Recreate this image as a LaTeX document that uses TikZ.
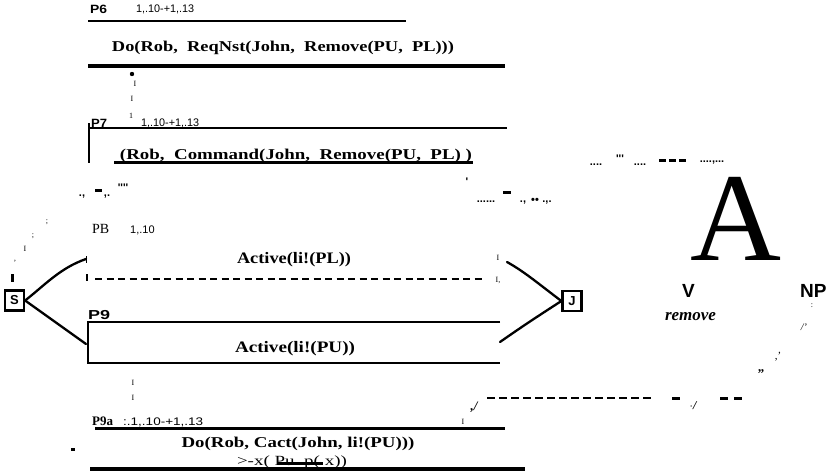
\documentclass[tikz,border=0pt]{standalone}
\usepackage{fontspec}
\usepackage{graphicx}
\setmainfont{Liberation Serif}
\newfontfamily\arial{Liberation Sans}
\newcommand\wfit[2]{\resizebox{#1}{\height}{#2}}
\begin{document}
\begin{tikzpicture}[x=1pt,y=-1pt,
  lbl/.style={inner sep=0pt, anchor=base west},
  ctr/.style={inner sep=0pt, anchor=base},
  tinymark/.style={inner sep=0pt, font=\fontsize{8}{8}\selectfont},
  junk/.style={inner sep=0pt, font=\arial\bfseries\fontsize{11}{11}\selectfont},
  boldserif/.style={font=\bfseries\fontsize{15}{15}\selectfont},
  pnum/.style={font=\arial\fontsize{11}{11}\selectfont},
  plabel/.style={font=\arial\bfseries\fontsize{12}{12}\selectfont},
  thinrule/.style={line width=2.5pt},
  thickrule/.style={line width=3.5pt},
  hand/.style={line width=2.3pt, line cap=round, line join=round},
  agent/.style={draw, line width=2.2pt, inner sep=0pt, minimum width=19pt, minimum height=20pt, font=\arial\bfseries\fontsize{13}{13}\selectfont},
  dashrule/.style={line width=2pt, dash pattern=on 7pt off 4.5pt}
]
\useasboundingbox[fill=white] (0,0) rectangle (827,472);

% ---------- P6 ----------
\node[lbl, plabel] (p6) at (90,13) {\wfit{17pt}{P6}};
\node[lbl, pnum] (p6n) at (136,12) {\wfit{58pt}{1,.10-+1,.13}};
\coordinate (l1a) at (88,21); \coordinate (l1b) at (406,21);
\draw[thinrule] (l1a) -- (l1b);
\node[ctr, boldserif] (t1) at (283,51) {\wfit{342pt}{Do(Rob,~ ReqNst(John,~ Remove(PU,~ PL)))}};
\coordinate (l2a) at (88,66); \coordinate (l2b) at (505,66);
\draw[thickrule] (l2a) -- (l2b);
\fill (132,74) circle (2.2);
\node[tinymark] (m1) at (135,84) {I};
\node[tinymark] (m2) at (132,99) {I};
\node[tinymark] (m3) at (131,116) {1};

% ---------- P7 ----------
\node[lbl, plabel] (p7) at (91,127) {\wfit{16pt}{P7}};
\node[lbl, pnum] (p7n) at (141,126) {\wfit{58pt}{1,.10-+1,.13}};
\coordinate (l3a) at (88,128); \coordinate (l3b) at (507,128);
\coordinate (v3a) at (89,123); \coordinate (v3b) at (89,163);
\draw[thinrule] (l3a) -- (l3b);
\draw[thinrule] (v3a) -- (v3b);
\node[ctr, boldserif] (t2) at (296,159) {\wfit{352pt}{(Rob,~ Command(John,~ Remove(PU,~ PL)~)}};
\coordinate (u2a) at (114,162.5); \coordinate (u2b) at (473,162.5);
\draw[line width=3pt] (u2a) -- (u2b);

% ---------- scattered marks (upper) ----------
\node[junk] (j1) at (82,197) {.,};
\fill (95,189) rectangle (102,192);
\node[junk] (j2) at (107,197) {,.};
\node[junk] (j3) at (123,188) {''''};
\node[junk] (j4) at (467,182) {'};
\node[junk] (j5) at (486,202) {......};
\fill (503,191) rectangle (511,194);
\node[junk] (j6) at (523,203) {.,};
\node[junk] (j7) at (535,201) {\textbullet\textbullet};
\node[junk] (j8) at (547,203) {.,.};
\node[tinymark] (j9) at (47,222) {;};
\node[tinymark] (j10) at (33,236) {;};
\node[tinymark] (j11) at (25,249) {I};
\node[tinymark] (j12) at (15,263) {'};
\fill (11,274) rectangle (13.5,282);

% ---------- P8 (PB) ----------
\node[lbl, font=\fontsize{14}{14}\selectfont] (pb) at (92,233) {PB};
\node[lbl, font=\arial\fontsize{11}{11}\selectfont] (pbn) at (130,233) {1,.10};
\node[ctr, font=\bfseries\fontsize{16}{16}\selectfont] (a1) at (294,263) {\wfit{114pt}{Active(li!(PL))}};
\coordinate (d1a) at (95,279); \coordinate (d1b) at (482,279);
\draw[dashrule] (d1a) -- (d1b);
\fill (85.5,274) rectangle (88,281);
\draw[line width=0.8pt] (86.5,256) -- (86.5,263);
\node[tinymark] (r1) at (498,258) {I};
\node[tinymark] (r2) at (498,280) {I,};

% ---------- agents ----------
\node[agent] (S) at (14.5,300.5) {S};
\node[agent] (J) at (572,301) {J};
\coordinate (s1) at (86,259);
\coordinate (s2) at (86,344);
\coordinate (j1c) at (507,262);
\coordinate (j2c) at (500,342);
\draw[hand] (S.east) .. controls (45,285) and (60,268) .. (s1);
\draw[hand] (S.east) -- (s2);
\draw[hand] (J.west) .. controls (540,285) and (525,272) .. (j1c);
\draw[hand] (J.west) .. controls (535,318) and (520,328) .. (j2c);

% ---------- P9 ----------
\node[lbl, font=\arial\bfseries\fontsize{13}{13}\selectfont] (p9) at (88,319) {\wfit{22pt}{P9}};
\coordinate (b1) at (500,322); \coordinate (b2) at (88,322);
\coordinate (b3) at (88,363); \coordinate (b4) at (500,363);
\draw[line width=2.8pt] (b1) -- (b2) -- (b3) -- (b4);
\node[ctr, font=\bfseries\fontsize{16}{16}\selectfont] (a2) at (295,352) {\wfit{120pt}{Active(li!(PU))}};
\node[tinymark] (m4) at (133,383) {I};
\node[tinymark] (m5) at (133,398) {I};

% ---------- P9a ----------
\node[lbl, font=\bfseries\fontsize{13}{13}\selectfont] (p9a) at (92,425) {P9a};
\node[lbl, pnum] (p9an) at (123,425) {\wfit{80pt}{:.1,.10-+1,.13}};
\coordinate (l5a) at (95,428.5); \coordinate (l5b) at (505,428.5);
\draw[line width=2.5pt] (l5a) -- (l5b);
\node[junk, font=\bfseries\itshape\fontsize{13}{13}\selectfont] (j13) at (474,407) {,/};
\node[tinymark] (j14) at (463,422) {I};
\node[ctr, boldserif] (t3) at (298,447) {\wfit{233pt}{Do(Rob, Cact(John, li!(PU)))}};
\node[ctr, font=\fontsize{14}{14}\selectfont] (t4) at (292,465) {\wfit{110pt}{>-x( Pu~ p( x))}};
\fill (277,461.5) rectangle (323,465);
\coordinate (l6a) at (90,468.5); \coordinate (l6b) at (525,468.5);
\draw[line width=4pt] (l6a) -- (l6b);
\fill (71,448) rectangle (75,450.5);

% ---------- lower right dashes ----------
\coordinate (d2a) at (487,398); \coordinate (d2b) at (655,398);
\draw[line width=2.3pt, dash pattern=on 7.5pt off 4.5pt] (d2a) -- (d2b);
\fill (672,396.5) rectangle (680,399.5);
\node[junk, font=\bfseries\itshape\fontsize{12}{12}\selectfont] (j15) at (693,406) {$\cdot$/};
\fill (720,396.5) rectangle (728,399.5);
\fill (734,396.5) rectangle (742,399.5);
\node[junk, font=\bfseries\fontsize{13}{13}\selectfont] (j16) at (761,372) {,,};
\node[junk, font=\fontsize{11}{11}\selectfont] (j17) at (778,357) {,'};
\node[junk, font=\itshape\fontsize{10}{10}\selectfont] (j18) at (804,327) {/'};
\node[tinymark] (j19) at (812,306) {:};

% ---------- upper right ----------
\node[junk] (j20) at (596,165) {....};
\node[junk] (j21) at (620,159) {'''};
\node[junk] (j22) at (640,165) {....};
\fill (659,158.5) rectangle (666,161.5);
\fill (669,158.5) rectangle (676,161.5);
\fill (679,158.5) rectangle (686,161.5);
\node[junk] (j23) at (712,163) {....,...};
\node[ctr, text height=82pt, text depth=0pt, font=\fontsize{126}{126}\selectfont] (A) at (736,260) {A};
\node[ctr, font=\arial\bfseries\fontsize{19}{19}\selectfont] (V) at (688.5,297) {V};
\node[ctr, font=\bfseries\itshape\fontsize{17}{17}\selectfont] (rm) at (690.5,320) {remove};
\node[lbl, font=\arial\bfseries\fontsize{19}{19}\selectfont] (NP) at (800,297) {NP};
\end{tikzpicture}
\end{document}
